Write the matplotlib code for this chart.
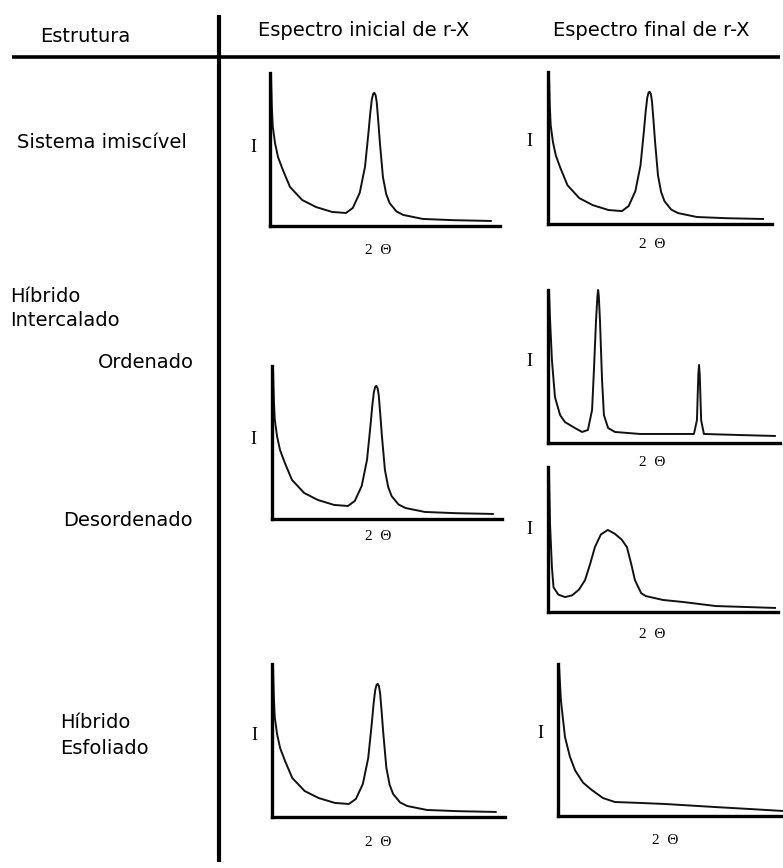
import matplotlib.pyplot as plt

# single-peak spectrum (same drawing reused for the initial spectra and the immiscible case)
peak_2theta = [0.4, 0.8, 1.2, 2.2, 3.5, 5.6, 8.7, 14, 20, 27, 33, 36, 39, 41.3, 42.8, 43.6,
               44.3, 44.9, 45.4, 45.9, 46.4, 47.1, 47.8, 49.1, 50.5, 52, 55, 58, 66.5, 80, 96]
peak_I = [100, 78, 65, 54, 45, 36.6, 25.5, 17, 12.4, 9.2, 8.5, 11.8, 21.6, 38.6, 60.8, 74,
          83, 86.5, 87, 85.5, 81, 68, 54, 32, 21, 15, 9.5, 7.2, 4.6, 3.8, 3.3]

# intercalated, ordered: two sharp peaks
ord_2theta = [0.4, 0.9, 1.7, 3, 5.2, 7.3, 11.6, 14.7, 17.2, 19, 19.8, 20.7, 21.3, 21.6, 21.9,
              22.4, 23.3, 24.1, 25.9, 28.9, 39.7, 62.9, 64.2, 64.8, 65.1, 65.4, 66, 67.2,
              82.8, 97.8]
ord_I = [100, 80, 54, 30, 18.3, 13.7, 9.8, 7.2, 8.5, 21.6, 47.7, 80, 96, 100, 96,
         80, 41, 18.3, 9.8, 7.2, 5.9, 5.9, 15, 45, 51, 45, 15, 5.9,
         5.2, 4.6]

# intercalated, disordered: one broad peak
dis_2theta = [0.4, 0.9, 1.7, 2.4, 4.5, 7.4, 10.5, 13.5, 16.1, 18.3, 20.4, 23, 26, 29, 32, 34.3,
              36.2, 37.8, 40.5, 42.5, 50, 58.7, 73, 87, 98.7]
dis_I = [98, 60, 31, 17, 12, 10.3, 11.5, 15.5, 22, 33, 44.8, 53.5, 56.6, 54, 50, 44.8,
         33, 22, 13, 11, 8.3, 6.9, 4.1, 3.4, 2.8]

# exfoliated: no peak
exf_2theta = [0.4, 1.3, 3.1, 5.3, 7.6, 11.1, 15.1, 20, 25.3, 36.4, 47.6, 69.8, 85.3, 100]
exf_I = [100, 76, 52, 39, 30, 22, 17, 11.8, 9.2, 8.6, 7.9, 5.9, 4.6, 3.3]

W, H = 783, 868
fig = plt.figure(figsize=(W / 100, H / 100), dpi=100)

bg = fig.add_axes([0, 0, 1, 1])
bg.set_xlim(0, W)
bg.set_ylim(H, 0)
bg.axis('off')

# table lines
bg.plot([12, 780], [57, 57], color='black', lw=2.6, solid_capstyle='butt')
bg.plot([219, 219], [15, 862], color='black', lw=3.0, solid_capstyle='butt')

sans = ['DejaVu Sans']
serif = ['Liberation Serif', 'DejaVu Serif']
fs = 14

bg.text(40, 37, 'Estrutura', family=sans, fontsize=fs, va='center', ha='left')
bg.text(258, 30, 'Espectro inicial de r-X', family=sans, fontsize=fs, va='center', ha='left')
bg.text(553, 30, 'Espectro final de r-X', family=sans, fontsize=fs, va='center', ha='left')

bg.text(17, 142, 'Sistema imiscível', family=sans, fontsize=fs, va='center', ha='left')
bg.text(10, 296, 'Híbrido', family=sans, fontsize=fs, va='center', ha='left')
bg.text(10, 321, 'Intercalado', family=sans, fontsize=fs, va='center', ha='left')
bg.text(98, 362, 'Ordenado', family=sans, fontsize=fs, va='center', ha='left')
bg.text(63, 520, 'Desordenado', family=sans, fontsize=fs, va='center', ha='left')
bg.text(60, 723, 'Híbrido', family=sans, fontsize=fs, va='center', ha='left')
bg.text(60, 749, 'Esfoliado', family=sans, fontsize=fs, va='center', ha='left')

# panels: (x0, x_end, y_top, y_base) in pixels, curve, "I" pos, "2 Θ" pos
panels = [
    ((270, 500, 73, 226), (peak_2theta, peak_I), (253, 147), (378, 250)),
    ((548, 772, 72, 224), (peak_2theta, peak_I), (529, 142), (652, 245)),
    ((272, 502, 366, 519), (peak_2theta, peak_I), (253, 440), (378, 537)),
    ((548, 780, 290, 443), (ord_2theta, ord_I), (529, 362), (652, 463)),
    ((548, 778, 467, 612), (dis_2theta, dis_I), (529, 530), (652, 634)),
    ((272, 505, 664, 817), (peak_2theta, peak_I), (254, 735), (378, 842)),
    ((558, 783, 664, 816), (exf_2theta, exf_I), (540, 733), (665, 840)),
]

for (x0, xe, yt, yb), (xs, ys), ipos, tpos in panels:
    ax = fig.add_axes([x0 / W, 1 - yb / H, (xe - x0) / W, (yb - yt) / H])
    ax.plot(xs, ys, color='#111111', lw=1.4, clip_on=False, solid_joinstyle='round')
    ax.set_xlim(0, 100)
    ax.set_ylim(0, 100)
    ax.set_xticks([])
    ax.set_yticks([])
    ax.patch.set_alpha(0)
    for s in ['top', 'right']:
        ax.spines[s].set_visible(False)
    for s in ['left', 'bottom']:
        ax.spines[s].set_linewidth(2.4)
    bg.text(ipos[0], ipos[1], 'I', family=serif, fontsize=13, ha='center', va='center')
    bg.text(tpos[0], tpos[1], '2  Θ', family=serif, fontsize=11, ha='center', va='center')

fig.savefig('out.png', dpi=100)
